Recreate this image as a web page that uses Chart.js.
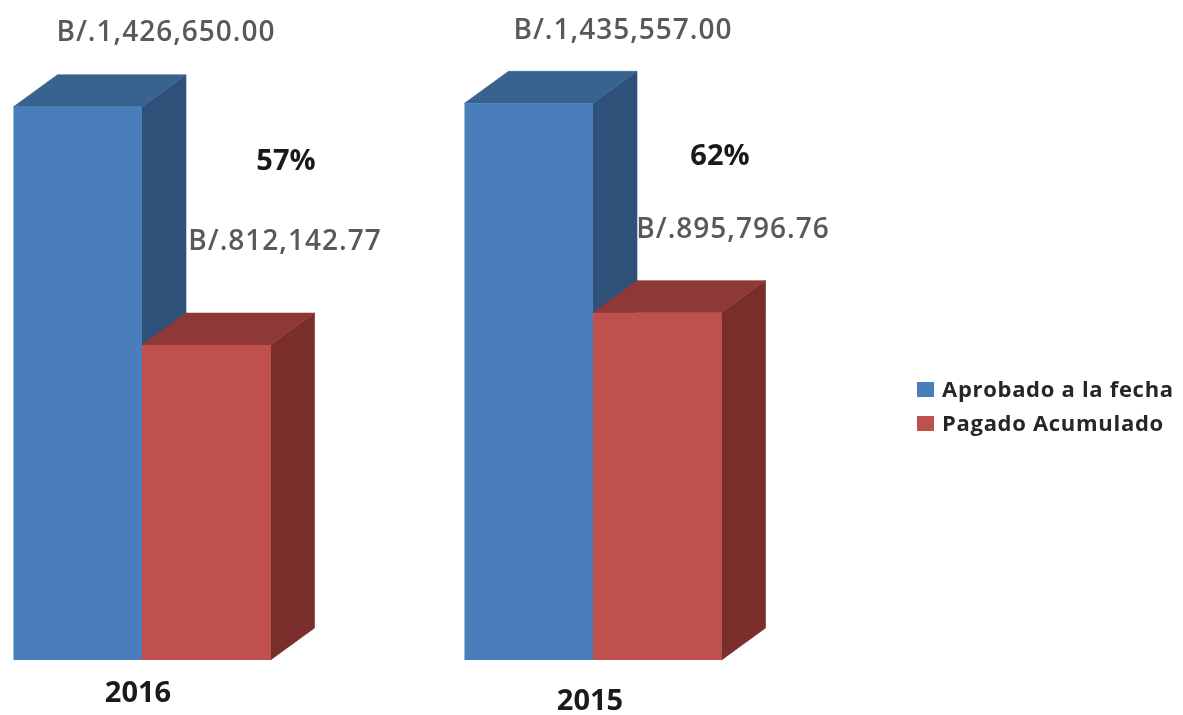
<!DOCTYPE html>
<html lang="es">
<head>
    <meta charset="UTF-8">
    <title>Aprobado y Pagado</title>
    <script src="https://cdn.jsdelivr.net/npm/chart.js"></script>
    <style>
        body {
            margin: 0;
            background: #fff;
            font-family: "Open Sans", sans-serif;
        }
        #chart-container {
            position: relative;
            width: 1183px;
            height: 715px;
            overflow: hidden;
            filter: blur(0.5px);
        }
        #legend {
            position: absolute;
            left: 917px;
            top: 372px;
            color: #262626;
            font-size: 22px;
            font-weight: 700;
            line-height: 33.5px;
            letter-spacing: 0.7px;
            white-space: nowrap;
        }
        #legend i {
            display: inline-block;
            width: 17px;
            height: 15px;
            margin-right: 8px;
        }
    </style>
</head>
<body>
    <div id="chart-container">
        <canvas id="chart"></canvas>
        <div id="legend"></div>
    </div>

    <script>
        var years = ['2016', '2015'];
        var seriesNames = ['Aprobado a la fecha', 'Pagado Acumulado'];
        var aprobado = [1426650.00, 1435557.00];
        var pagado = [812142.77, 895796.76];
        var percentLabels = ['57%', '62%'];

        var FRONT = ['#4a7ebb', '#c0504d'];
        var TOP = ['#39638f', '#8f3936'];
        var SIDE = ['#2f5079', '#7a2e2c'];
        var DEPTH_X = 44, DEPTH_Y = 32;

        function money(v) {
            return 'B/.' + v.toLocaleString('en-US', { minimumFractionDigits: 2, maximumFractionDigits: 2 });
        }

        function poly(ctx, color, pts) {
            ctx.fillStyle = color;
            ctx.strokeStyle = color;
            ctx.lineWidth = 0.6;
            ctx.beginPath();
            ctx.moveTo(pts[0][0], pts[0][1]);
            for (var i = 1; i < pts.length; i++) ctx.lineTo(pts[i][0], pts[i][1]);
            ctx.closePath();
            ctx.fill();
            ctx.stroke();
        }

        // top and side faces, behind the front faces Chart.js draws itself
        var faces3d = {
            id: 'faces3d',
            beforeDatasetsDraw: function(chart) {
                var ctx = chart.ctx;
                ctx.save();
                for (var i = 0; i < years.length; i++) {
                    for (var d = 0; d < 2; d++) {
                        var b = chart.getDatasetMeta(d).data[i];
                        var l = b.x - b.width / 2, r = b.x + b.width / 2;
                        poly(ctx, SIDE[d], [[r, b.y], [r + DEPTH_X, b.y - DEPTH_Y], [r + DEPTH_X, b.base - DEPTH_Y], [r, b.base]]);
                        poly(ctx, TOP[d], [[l, b.y], [l + DEPTH_X, b.y - DEPTH_Y], [r + DEPTH_X, b.y - DEPTH_Y], [r, b.y]]);
                    }
                }
                ctx.restore();
            }
        };

        // the labels sit by hand in the original, so each has its own offset
        var chartLabels = {
            id: 'chartLabels',
            afterDatasetsDraw: function(chart) {
                var ctx = chart.ctx, x = chart.scales.x, y = chart.scales.y;
                var valueFont = '600 28px "Open Sans"', boldFont = '700 29px "Open Sans"';
                var text = function(str, px, py, font, color, spacing) {
                    ctx.font = font;
                    ctx.letterSpacing = spacing;
                    ctx.fillStyle = color;
                    ctx.fillText(str, px, py);
                };
                ctx.save();
                ctx.textAlign = 'center';
                ctx.textBaseline = 'middle';
                var aprobadoDx = [24, 30], aprobadoDy = [-74, -72];
                var pagadoDx = [143, 140], pagadoDy = [-103, -83];
                var pctDx = [144, 127], pctDy = [55, 53];
                var yearDx = [-4, -3], yearDy = [34, 42];
                for (var i = 0; i < years.length; i++) {
                    var cx = x.getPixelForValue(i);
                    var topA = y.getPixelForValue(aprobado[i]);
                    var topP = y.getPixelForValue(pagado[i]);
                    text(money(aprobado[i]), cx + aprobadoDx[i], topA + aprobadoDy[i], valueFont, '#595959', '1px');
                    text(money(pagado[i]), cx + pagadoDx[i], topP + pagadoDy[i], valueFont, '#595959', '1px');
                    text(percentLabels[i], cx + pctDx[i], topA + pctDy[i], boldFont, '#1a1a1a', '0px');
                    text(years[i], cx + yearDx[i], y.getPixelForValue(0) + yearDy[i], boldFont, '#1a1a1a', '0px');
                }
                ctx.restore();
            }
        };

        new Chart(document.getElementById('chart'), {
            type: 'bar',
            data: {
                labels: years,
                datasets: [
                    { label: seriesNames[0], data: aprobado, backgroundColor: FRONT[0], clip: false },
                    { label: seriesNames[1], data: pagado, backgroundColor: FRONT[1], clip: false }
                ]
            },
            options: {
                responsive: true,
                maintainAspectRatio: false,
                animation: false,
                layout: { padding: { left: 142, right: 590, top: 0, bottom: 55 } },
                categoryPercentage: 0.57,
                barPercentage: 1,
                plugins: { legend: { display: false }, tooltip: { enabled: false } },
                scales: {
                    x: { display: false, offset: false },
                    y: { display: false, min: 0, max: 1702000 }
                }
            },
            plugins: [faces3d, chartLabels]
        });

        document.getElementById('legend').innerHTML = seriesNames.map(function(name, i) {
            return '<div><i style="background:' + FRONT[i] + '"></i>' + name + '</div>';
        }).join('');
    </script>
</body>
</html>
